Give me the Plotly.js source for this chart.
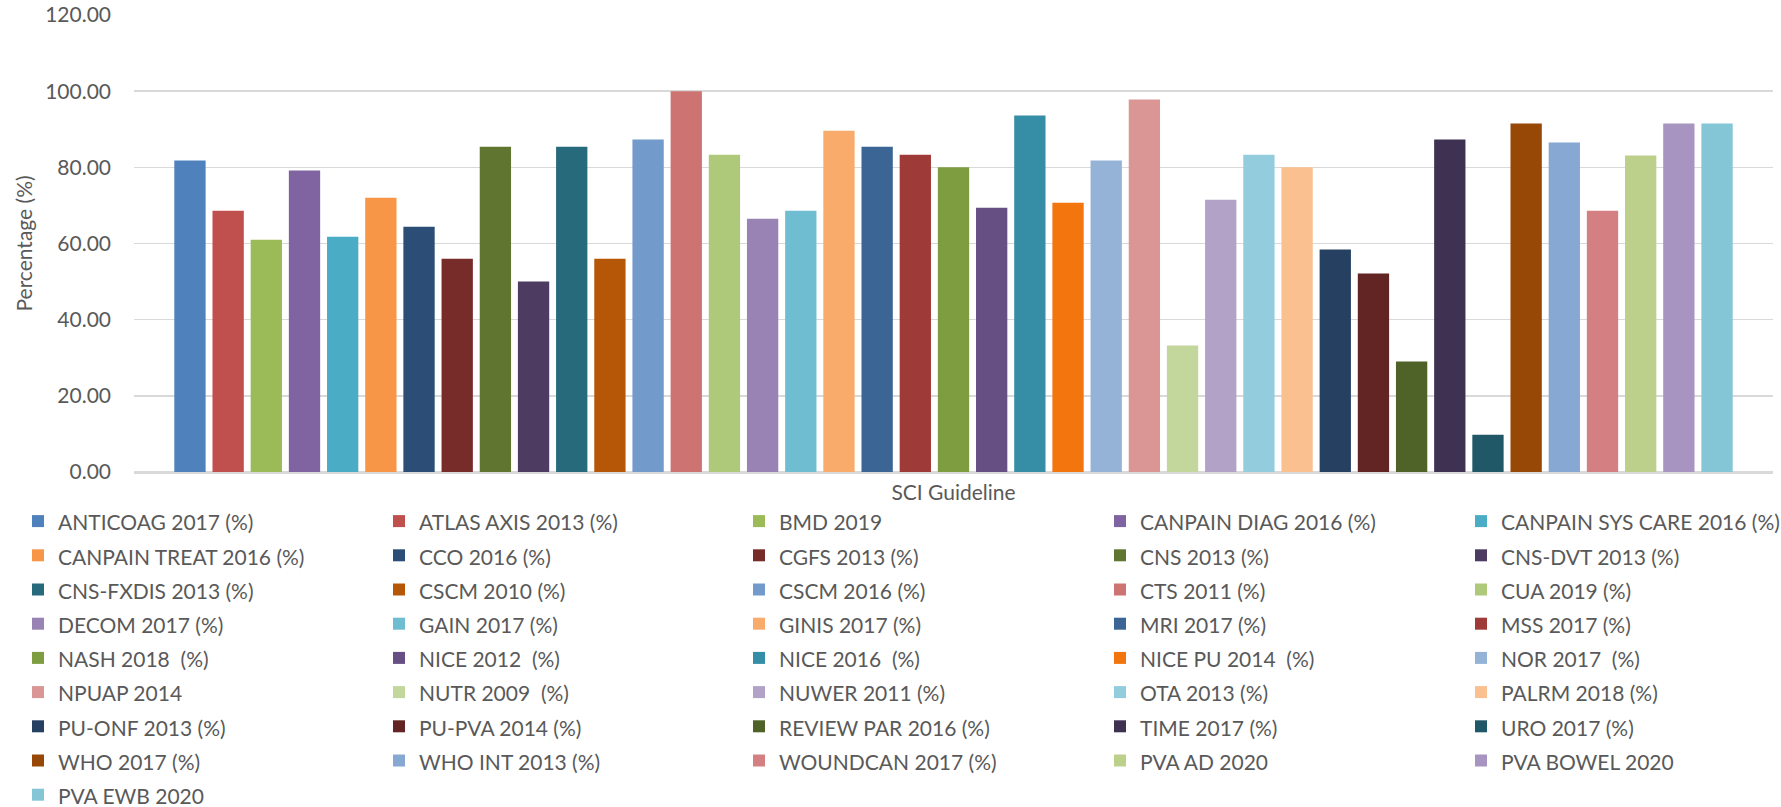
<!DOCTYPE html>
<html>
<head>
<meta charset="utf-8">
<script src="https://cdn.plot.ly/plotly-3.0.1.min.js"></script>
<style>html,body{margin:0;padding:0;background:#fff;}#chart{width:1781px;height:807px;}</style>
</head>
<body>
<div id="chart"></div>
<script>
const guidelines = [
  "ANTICOAG 2017 (%)", "ATLAS AXIS 2013 (%)", "BMD 2019", "CANPAIN DIAG 2016 (%)", "CANPAIN SYS CARE 2016 (%)",
  "CANPAIN TREAT 2016 (%)", "CCO 2016 (%)", "CGFS 2013 (%)", "CNS 2013 (%)", "CNS-DVT 2013 (%)",
  "CNS-FXDIS 2013 (%)", "CSCM 2010 (%)", "CSCM 2016 (%)", "CTS 2011 (%)", "CUA 2019 (%)",
  "DECOM 2017 (%)", "GAIN 2017 (%)", "GINIS 2017 (%)", "MRI 2017 (%)", "MSS 2017 (%)",
  "NASH 2018 \u00a0(%)", "NICE 2012 \u00a0(%)", "NICE 2016 \u00a0(%)", "NICE PU 2014 \u00a0(%)", "NOR 2017 \u00a0(%)",
  "NPUAP 2014", "NUTR 2009 \u00a0(%)", "NUWER 2011 (%)", "OTA 2013 (%)", "PALRM 2018 (%)",
  "PU-ONF 2013 (%)", "PU-PVA 2014 (%)", "REVIEW PAR 2016 (%)", "TIME 2017 (%)", "URO 2017 (%)",
  "WHO 2017 (%)", "WHO INT 2013 (%)", "WOUNDCAN 2017 (%)", "PVA AD 2020", "PVA BOWEL 2020",
  "PVA EWB 2020"
];
const percentages = [
  81.8, 68.6, 61.0, 79.2, 61.8,
  72.0, 64.4, 56.0, 85.4, 50.0,
  85.4, 56.0, 87.3, 100.0, 83.3,
  66.5, 68.6, 89.6, 85.4, 83.3,
  80.0, 69.4, 93.6, 70.7, 81.8,
  97.8, 33.2, 71.5, 83.3, 80.0,
  58.4, 52.1, 29.0, 87.3, 9.8,
  91.5, 86.5, 68.6, 83.1, 91.5,
  91.5
];
const barColors = [
  "#4F81BD", "#C0504D", "#9BBB59", "#8064A2", "#4BACC6",
  "#F79646", "#2C4D75", "#772C2A", "#5F7530", "#4D3B62",
  "#276A7C", "#B65708", "#729ACA", "#CD7371", "#AFC97A",
  "#9983B5", "#6FBDD1", "#F9AB6B", "#3A6595", "#9E3B38",
  "#7E9D40", "#664F83", "#358EA6", "#F2750E", "#95B3D7",
  "#D99694", "#C3D69B", "#B2A2C7", "#93CDDD", "#FAC090",
  "#254061", "#632523", "#4F6228", "#3F3151", "#215868",
  "#974806", "#86A8D3", "#D48082", "#BCD08C", "#A794C0",
  "#84C5D6"
];
const category = ["SCI Guideline"];
const yTicks = [0, 20, 40, 60, 80, 100, 120];
const yTitle = "Percentage (%)";

const legendIds = ["legend", "legend2", "legend3", "legend4", "legend5"];

const traces = guidelines.map((name, i) => ({
  type: "bar",
  name: '<span style="font-size:21px">' + name + '</span>',
  x: category,
  y: [percentages[i]],
  marker: { color: barColors[i] },
  legend: legendIds[i % 5],
  hoverinfo: "y+name"
}));

const layout = {
  width: 1781,
  height: 807,
  paper_bgcolor: "#ffffff",
  plot_bgcolor: "#ffffff",
  font: { family: "Lato, 'Open Sans', sans-serif", color: "#595959", size: 21 },
  margin: { l: 134, r: 8, t: 15, b: 335, autoexpand: false },
  barmode: "group",
  bargap: 0.045,
  bargroupgap: 0.18,
  showlegend: true,
  xaxis: {
    type: "category",
    showticklabels: false,
    showgrid: false,
    ticks: "",
    showline: true,
    linecolor: "#d9d9d9",
    linewidth: 1.5,
    title: { text: "SCI Guideline", font: { size: 21, color: "#595959" }, standoff: 13 }
  },
  yaxis: {
    range: [0, 120],
    tickvals: yTicks,
    tickformat: ".2f",
    showgrid: true,
    gridcolor: "#d9d9d9",
    gridwidth: 1.5,
    zeroline: true,
    zerolinecolor: "#d9d9d9",
    zerolinewidth: 1.5,
    showline: false,
    ticks: "",
    ticklabelstandoff: 22,
    tickfont: { size: 21, color: "#595959" }
  },
  annotations: [{
    text: yTitle,
    xref: "paper",
    yref: "paper",
    x: (23 - 134) / 1639,
    y: 0.5,
    xanchor: "center",
    yanchor: "middle",
    textangle: -90,
    showarrow: false,
    font: { size: 21, color: "#595959" }
  }]
};

const legendLeft = [18, 379, 739, 1100, 1461];
legendIds.forEach((id, k) => {
  layout[id] = {
    orientation: "v",
    xref: "container",
    yref: "container",
    x: legendLeft[k] / 1781,
    xanchor: "left",
    y: 1 - 499 / 807,
    yanchor: "top",
    maxheight: 400,
    font: { size: 24, color: "#595959" },
    traceorder: "normal",
    itemclick: false,
    itemdoubleclick: false
  };
});

Plotly.newPlot("chart", traces, layout, { displayModeBar: false, staticPlot: true });
</script>
</body>
</html>
